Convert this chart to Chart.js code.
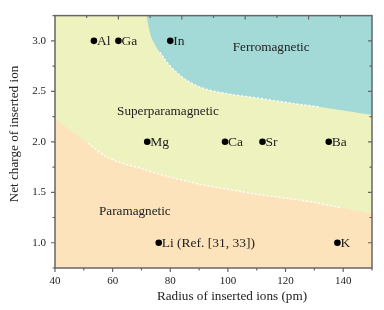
<!DOCTYPE html>
<html>
<head>
<meta charset="utf-8">
<script src="https://cdn.jsdelivr.net/npm/chart.js@4.4.1/dist/chart.umd.min.js"></script>
<style>
html,body{margin:0;padding:0;background:#fff;}
#wrap{width:384px;height:310px;position:relative;}
</style>
</head>
<body>
<div id="wrap"><canvas id="c" width="384" height="310"></canvas></div>
<script>
// ---- data ----
const ionNames = ['Al','Ga','In','Mg','Ca','Sr','Ba','Li (Ref. [31, 33])','K'];
const ionRadius = [53.5, 62, 80, 72, 99, 112, 135, 76, 138];
const ionCharge = [3, 3, 3, 2, 2, 2, 2, 1, 1];

// upper boundary (superparamagnetic / ferromagnetic)
const ferroX = [71.8, 72.9, 74.5, 76.4, 79.8, 83.3, 86.8, 92, 100, 110, 118, 125, 132, 140, 150];
const ferroY = [3.25, 3.08, 2.97, 2.885, 2.755, 2.66, 2.59, 2.525, 2.475, 2.435, 2.40, 2.37, 2.345, 2.31, 2.265];
// lower boundary (paramagnetic / superparamagnetic)
const paraX = [40, 45.8, 51.5, 57.3, 63.1, 69.4, 76, 83.3, 90.2, 100, 110, 118, 130, 139.5, 150];
const paraY = [2.23, 2.10, 1.986, 1.86, 1.79, 1.74, 1.68, 1.627, 1.58, 1.53, 1.48, 1.45, 1.40, 1.345, 1.285];
const ferroDashRange = [76, 133];
const paraDashRange = [51, 140];

const regionNames = ['Ferromagnetic', 'Superparamagnetic', 'Paramagnetic'];
const regionX = [115, 79.2, 67.7];
const regionY = [2.935, 2.30, 1.31];

const xMin = 40, xMax = 150, yMin = 0.75, yMax = 3.25;
const xLabelTicks = [40, 60, 80, 100, 120, 140];
const yLabelTicks = [1.0, 1.5, 2.0, 2.5, 3.0];
const xTitle = 'Radius of inserted ions (pm)';
const yTitle = 'Net charge of inserted ion';

// ---- styles ----
const SERIF = "'Liberation Serif', 'Times New Roman', 'DejaVu Serif', serif";
const C_SUPER = '#eef2bf';
const C_FERRO = '#a3d9d6';
const C_PARA = '#fce3bc';
const C_AXIS = '#666666';
const C_TEXT = '#222222';

const zip = (xs, ys) => xs.map((x, i) => ({x, y: ys[i]}));
const sub = (pts, r) => pts.filter(p => p.x >= r[0] && p.x <= r[1]);
const ferroPts = zip(ferroX, ferroY);
const paraPts = zip(paraX, paraY);

const bgPlugin = {
  id: 'bg',
  beforeDatasetsDraw(chart) {
    const {ctx, chartArea: a} = chart;
    ctx.save();
    ctx.fillStyle = C_SUPER;
    ctx.fillRect(a.left, a.top, a.right - a.left, a.bottom - a.top);
    ctx.restore();
  }
};

const labelPlugin = {
  id: 'labels',
  afterDatasetsDraw(chart) {
    const {ctx, scales: {x, y}} = chart;
    ctx.save();
    ctx.fillStyle = C_TEXT;
    ctx.font = '13.5px ' + SERIF;
    ctx.textBaseline = 'middle';
    ctx.textAlign = 'left';
    ionNames.forEach((n, i) => {
      ctx.fillText(n, x.getPixelForValue(ionRadius[i]) + 3, y.getPixelForValue(ionCharge[i]) + 0.5);
    });
    ctx.font = '13.2px ' + SERIF;
    ctx.textAlign = 'center';
    regionNames.forEach((n, i) => {
      ctx.fillText(n, x.getPixelForValue(regionX[i]), y.getPixelForValue(regionY[i]));
    });
    ctx.restore();
  }
};

const framePlugin = {
  id: 'frame',
  afterDraw(chart) {
    const {ctx, chartArea: a, scales: {x, y}} = chart;
    ctx.save();
    ctx.strokeStyle = C_AXIS;
    ctx.lineWidth = 1.5;
    ctx.strokeRect(a.left, a.top, a.right - a.left, a.bottom - a.top);
    ctx.lineWidth = 1.2;
    ctx.beginPath();
    for (let v = xMin; v <= xMax + 1e-9; v += 10) {
      const px = x.getPixelForValue(v);
      const len = (v % 20 === 0) ? 4 : 2.5;
      ctx.moveTo(px, a.bottom); ctx.lineTo(px, a.bottom + len);
    }
    for (let k = 1; k < 10; k++) {
      const px = x.getPixelForValue(xMin + (xMax - xMin) * k / 10);
      const len = (k % 2 === 0) ? 4 : 2.5;
      ctx.moveTo(px, a.top); ctx.lineTo(px, a.top + len);
    }
    for (let v = yMin; v <= yMax + 1e-9; v += 0.25) {
      const py = y.getPixelForValue(v);
      const major = Math.abs(v * 2 - Math.round(v * 2)) < 1e-6;
      const len = major ? 4 : 2.5;
      ctx.moveTo(a.left, py); ctx.lineTo(a.left - len, py);
      if (v > yMin + 1e-6 && v < yMax - 1e-6) {
        ctx.moveTo(a.right, py); ctx.lineTo(a.right - len, py);
      }
    }
    ctx.stroke();
    // axis titles
    ctx.fillStyle = C_TEXT;
    ctx.font = '13.2px ' + SERIF;
    ctx.textAlign = 'center';
    ctx.textBaseline = 'middle';
    ctx.fillText(xTitle, 232, 297);
    ctx.translate(15, 134);
    ctx.rotate(-Math.PI / 2);
    ctx.fillText(yTitle, 0, 0);
    ctx.restore();
  }
};

const lineBase = {
  type: 'line', pointRadius: 0, pointHoverRadius: 0, borderWidth: 0,
  cubicInterpolationMode: 'monotone', showLine: true
};

new Chart(document.getElementById('c'), {
  type: 'scatter',
  data: {
    datasets: [
      Object.assign({}, lineBase, {data: ferroPts, fill: 'end', backgroundColor: C_FERRO, borderColor: 'rgba(0,0,0,0)', order: 5}),
      Object.assign({}, lineBase, {data: paraPts, fill: 'start', backgroundColor: C_PARA, borderColor: 'rgba(0,0,0,0)', order: 4}),
      Object.assign({}, lineBase, {data: sub(ferroPts, ferroDashRange), fill: false, borderColor: '#ffffff', borderWidth: 1.4, borderDash: [2, 2], order: 3}),
      Object.assign({}, lineBase, {data: sub(paraPts, paraDashRange), fill: false, borderColor: '#ffffff', borderWidth: 1.4, borderDash: [2, 2], order: 2}),
      {type: 'scatter', data: zip(ionRadius, ionCharge), pointRadius: 3.3, pointBackgroundColor: '#000', pointBorderWidth: 0, showLine: false, order: 1}
    ]
  },
  options: {
    responsive: false,
    animation: false,
    events: [],
    layout: {padding: {left: 0, right: 12, top: 13, bottom: 0}},
    plugins: {legend: {display: false}, tooltip: {enabled: false}},
    scales: {
      x: {
        type: 'linear', min: xMin, max: xMax,
        afterFit(s) { s.height = 42; },
        afterBuildTicks(s) { s.ticks = xLabelTicks.map(v => ({value: v})); },
        grid: {display: false, drawTicks: false, tickLength: 0},
        border: {display: false},
        ticks: {color: C_TEXT, font: {family: SERIF, size: 11}, padding: 7, maxRotation: 0, autoSkip: false,
          callback: v => String(v)},
        title: {display: false}
      },
      y: {
        type: 'linear', min: yMin, max: yMax,
        afterFit(s) { s.width = 55; },
        afterBuildTicks(s) { s.ticks = yLabelTicks.map(v => ({value: v})); },
        grid: {display: false, drawTicks: false, tickLength: 0},
        border: {display: false},
        ticks: {color: C_TEXT, font: {family: SERIF, size: 11}, padding: 9, autoSkip: false,
          callback: v => Number(v).toFixed(1)},
        title: {display: false}
      }
    }
  },
  plugins: [bgPlugin, labelPlugin, framePlugin]
});
</script>
</body>
</html>
